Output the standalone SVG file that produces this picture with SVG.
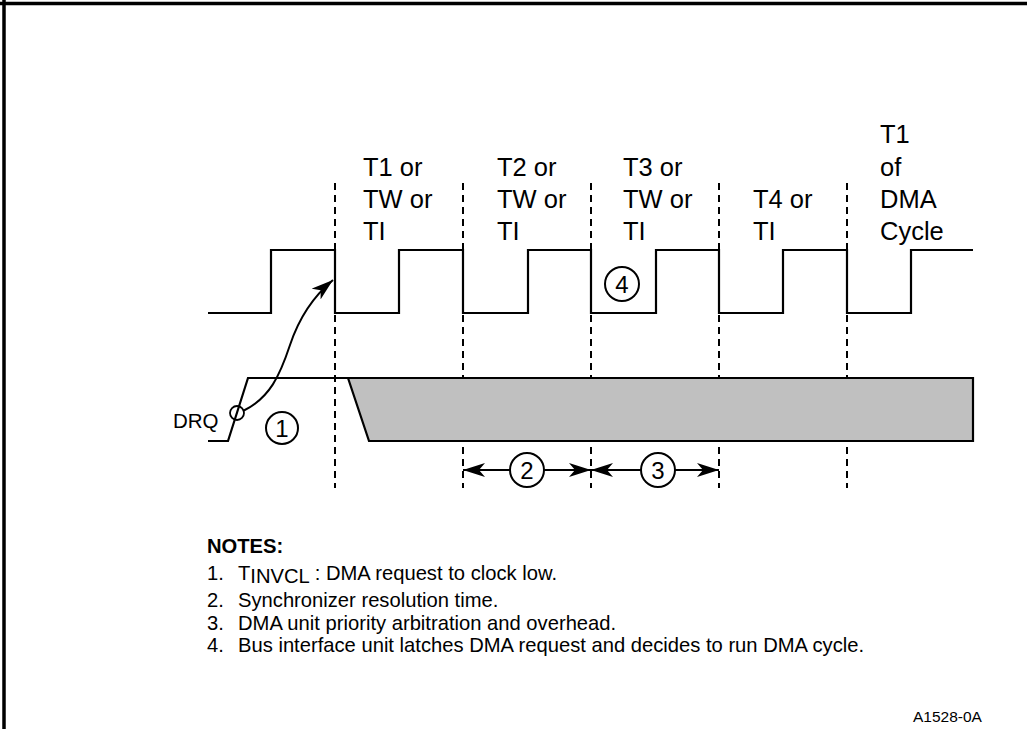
<svg xmlns="http://www.w3.org/2000/svg" width="1027" height="729" viewBox="0 0 1027 729">
<style>
.sig{fill:none;stroke:#000;stroke-width:2.2;stroke-linejoin:miter}
.dash{stroke:#000;stroke-width:2;stroke-dasharray:7,5}
.lbl{font-family:"Liberation Sans",Arial,sans-serif;font-size:25.5px;fill:#000}
.num{font-family:"Liberation Sans",Arial,sans-serif;font-size:24px;fill:#000;text-anchor:middle}
.note{font-family:"Liberation Sans",Arial,sans-serif;font-size:20.2px;fill:#000}
.circ{fill:#fff;stroke:#000;stroke-width:2}
</style>
<defs>
<marker id="ah" viewBox="0 0 22 14" refX="22" refY="7" markerWidth="22" markerHeight="14" markerUnits="userSpaceOnUse" orient="auto">
<path d="M0,0 L22,7 L0,14 L6,7 Z" fill="#000"/>
</marker>
</defs>
<rect width="1027" height="729" fill="#fff"/>
<g id="border">
<line x1="0" y1="3.5" x2="1027" y2="3.5" stroke="#000" stroke-width="3.5"/>
<line x1="4" y1="0" x2="4" y2="729" stroke="#000" stroke-width="3.5"/>
</g>
<g id="gridlines">
<line class="dash" x1="335" y1="183" x2="335" y2="488"/>
<line class="dash" x1="463" y1="183" x2="463" y2="488"/>
<line class="dash" x1="591" y1="183" x2="591" y2="488"/>
<line class="dash" x1="719" y1="183" x2="719" y2="488"/>
<line class="dash" x1="847" y1="183" x2="847" y2="488"/>
</g>
<g id="clock">
<path class="sig" d="M208,313 H271 V250 H335 V313 H399 V250 H463 V313 H528 V250 H591 V313 H656 V250 H719 V313 H783 V250 H847 V313 H911 V250 H973"/>
</g>
<g id="drq">
<path d="M348,378 L369,442 H973 V378 Z" fill="#c0c0c0"/>
<path class="sig" d="M208,441 H228 L248,378 H973 V441 H369 L348,378"/>
<text class="lbl" x="173" y="428" style="font-size:20.5px">DRQ</text>
</g>
<g id="labels">
<text class="lbl" x="363" y="176">T1 or</text>
<text class="lbl" x="363" y="208">TW or</text>
<text class="lbl" x="363" y="240">TI</text>
<text class="lbl" x="497" y="176">T2 or</text>
<text class="lbl" x="497" y="208">TW or</text>
<text class="lbl" x="497" y="240">TI</text>
<text class="lbl" x="623" y="176">T3 or</text>
<text class="lbl" x="623" y="208">TW or</text>
<text class="lbl" x="623" y="240">TI</text>
<text class="lbl" x="753" y="208">T4 or</text>
<text class="lbl" x="753" y="240">TI</text>
<text class="lbl" x="880" y="143">T1</text>
<text class="lbl" x="880" y="176">of</text>
<text class="lbl" x="880" y="208">DMA</text>
<text class="lbl" x="880" y="240">Cycle</text>
</g>
<g id="connectors">
<path d="M243,411 C270,398 280,375 290,345 S315,295 333,280" fill="none" stroke="#000" stroke-width="2" marker-end="url(#ah)"/>
<line x1="510" y1="470" x2="463" y2="470" stroke="#000" stroke-width="2" marker-end="url(#ah)"/>
<line x1="544" y1="470" x2="591" y2="470" stroke="#000" stroke-width="2" marker-end="url(#ah)"/>
<line x1="641" y1="470" x2="591" y2="470" stroke="#000" stroke-width="2" marker-end="url(#ah)"/>
<line x1="675" y1="470" x2="719" y2="470" stroke="#000" stroke-width="2" marker-end="url(#ah)"/>
</g>
<g id="marker-circle">
<circle cx="237" cy="413" r="7" fill="none" stroke="#000" stroke-width="1.8"/>
</g>
<g id="n1">
<circle class="circ" cx="282" cy="428" r="16"/>
<text class="num" x="282" y="437">1</text>
</g>
<g id="n2">
<circle class="circ" cx="527" cy="470" r="17"/>
<text class="num" x="527" y="479">2</text>
</g>
<g id="n3">
<circle class="circ" cx="658" cy="470" r="17"/>
<text class="num" x="658" y="479">3</text>
</g>
<g id="n4">
<circle class="circ" cx="622" cy="284" r="17"/>
<text class="num" x="622" y="293">4</text>
</g>
<g id="notes">
<text class="note" x="207" y="553" style="font-weight:bold">NOTES:</text>
<text class="note" x="207" y="580">1.<tspan x="238">T</tspan><tspan dy="3">INVCL</tspan><tspan dy="-3"> : DMA request to clock low.</tspan></text>
<text class="note" x="207" y="607">2.<tspan x="238">Synchronizer resolution time.</tspan></text>
<text class="note" x="207" y="630">3.<tspan x="238">DMA unit priority arbitration and overhead.</tspan></text>
<text class="note" x="207" y="652">4.<tspan x="238">Bus interface unit latches DMA request and decides to run DMA cycle.</tspan></text>
</g>
<text id="figid" class="note" x="913" y="722" style="font-size:15.5px">A1528-0A</text>
</svg>
